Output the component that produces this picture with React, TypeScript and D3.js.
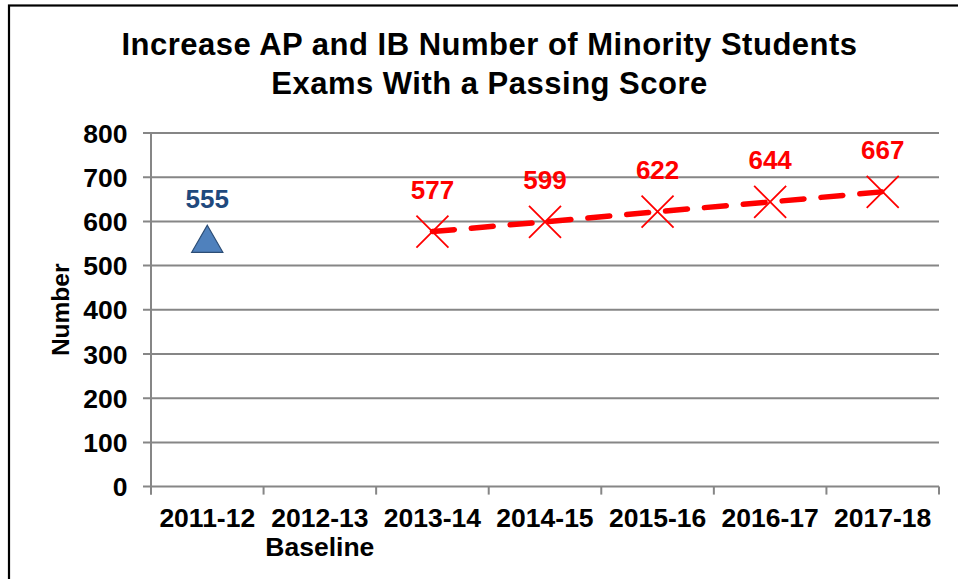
import React from "react";
import * as d3 from "d3";

const categories = ["2011-12", "2012-13", "2013-14", "2014-15", "2015-16", "2016-17", "2017-18"];
const baselineValues = [{ cat: "2011-12", value: 555 }];
const targetValues = [
  { cat: "2013-14", value: 577 },
  { cat: "2014-15", value: 599 },
  { cat: "2015-16", value: 622 },
  { cat: "2016-17", value: 644 },
  { cat: "2017-18", value: 667 },
];
const yTicks = [0, 100, 200, 300, 400, 500, 600, 700, 800];
const titleLines = ["Increase AP and IB Number of Minority Students", "Exams With a Passing Score"];

const W = 958;
const H = 579;
const FONT = "'Liberation Sans', Arial, sans-serif";

export default function App() {
  const left = 151;
  const right = 939;
  const top = 133;
  const bottom = 486.6;
  const x = d3.scaleBand<string>().domain(categories).range([left, right]).padding(0);
  const y = d3.scaleLinear().domain([0, 800]).range([bottom, top]);
  const cx = (c: string) => (x(c) as number) + x.bandwidth() / 2;
  const line = d3
    .line<{ cat: string; value: number }>()
    .x((d) => cx(d.cat))
    .y((d) => y(d.value));
  const axisColor = "#868686";
  const red = "#FF0000";
  const tri = d3.symbol().type(d3.symbolTriangle).size(420)();
  const boundaries = categories.map((c) => x(c) as number).concat([right]);

  return (
    <svg
      width={W}
      height={H}
      style={{ position: "absolute", left: 0, top: 0, background: "#fff" }}
      fontFamily={FONT}
    >
      <rect x={0} y={0} width={W} height={H} fill="#fff" />
      <rect x={9} y={5.5} width={W + 20} height={H + 20} fill="none" stroke="#000" strokeWidth={2.2} />
      {titleLines.map((t, i) => (
        <text
          key={i}
          x={489.5}
          y={55 + i * 38.5}
          textAnchor="middle"
          fontSize={31}
          letterSpacing={0.5}
          fontWeight="bold"
          fill="#000"
        >
          {t}
        </text>
      ))}
      {yTicks.map((t) => (
        <g key={t}>
          <line x1={left - 8} x2={right} y1={y(t)} y2={y(t)} stroke={axisColor} strokeWidth={2} />
          <text x={127.5} y={y(t) + 9.5} textAnchor="end" fontSize={26.5} fontWeight="bold" fill="#000">
            {t}
          </text>
        </g>
      ))}
      <line x1={left} x2={left} y1={top} y2={bottom + 8} stroke={axisColor} strokeWidth={2} />
      {boundaries.map((b, i) => (
        <line key={i} x1={b} x2={b} y1={bottom} y2={bottom + 8} stroke={axisColor} strokeWidth={2} />
      ))}
      {categories.map((c) => (
        <text key={c} x={cx(c)} y={527} textAnchor="middle" fontSize={26.5} fontWeight="bold" fill="#000">
          {c}
        </text>
      ))}
      <text x={cx("2012-13")} y={556} textAnchor="middle" fontSize={26.5} fontWeight="bold" fill="#000">
        Baseline
      </text>
      <text
        transform={`translate(69,${(top + bottom) / 2}) rotate(-90)`}
        textAnchor="middle"
        fontSize={24.5}
        fontWeight="bold"
        fill="#000"
      >
        Number
      </text>
      <path
        d={line(targetValues) || ""}
        fill="none"
        stroke={red}
        strokeWidth={5.5}
        strokeDasharray="22 17"
        strokeLinecap="round"
      />
      {targetValues.map((d) => {
        const px = cx(d.cat);
        const py = y(d.value);
        const s = 16;
        return (
          <g key={d.cat}>
            <path
              d={`M${px - s},${py - s}L${px + s},${py + s}M${px - s},${py + s}L${px + s},${py - s}`}
              stroke={red}
              strokeWidth={1.8}
            />
            <text x={px} y={py - 33} textAnchor="middle" fontSize={26} fontWeight="bold" fill={red}>
              {d.value}
            </text>
          </g>
        );
      })}
      {baselineValues.map((d) => {
        const px = cx(d.cat);
        const py = y(d.value);
        return (
          <g key={d.cat}>
            <path d={tri || ""} transform={`translate(${px},${py + 2})`} fill="#4F81BD" stroke="#2C4D75" strokeWidth={1.2} />
            <text x={px} y={py - 33} textAnchor="middle" fontSize={26} fontWeight="bold" fill="#1F497D">
              {d.value}
            </text>
          </g>
        );
      })}
    </svg>
  );
}
